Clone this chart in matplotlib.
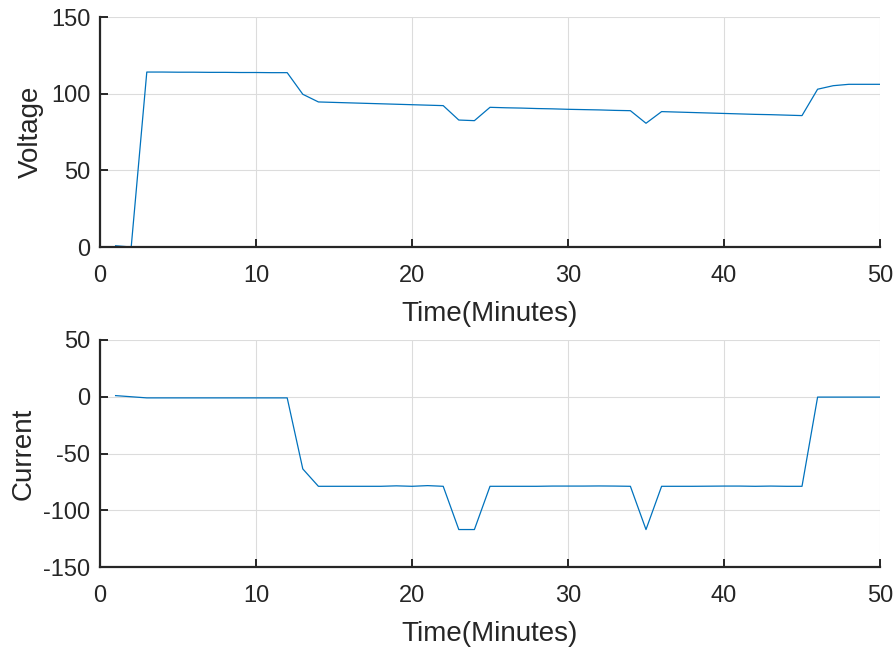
import numpy as np
import matplotlib
matplotlib.use('Agg')
import matplotlib.pyplot as plt

plt.rcParams['font.family'] = ['Liberation Sans', 'DejaVu Sans']
plt.rcParams['axes.unicode_minus'] = False

# sample times (minutes)
minutes = list(range(1, 51))

voltage = [0.8, 0.0, 114.1, 114.1, 114.0, 114.0, 113.9, 113.9, 113.8, 113.8,
           113.7, 113.7, 99.6, 94.6, 94.3, 94.0, 93.7, 93.4, 93.1, 92.8,
           92.5, 92.2, 82.8, 82.4, 91.1, 90.8, 90.6, 90.3, 90.1, 89.8,
           89.6, 89.4, 89.1, 88.9, 80.7, 88.3, 88.0, 87.7, 87.4, 87.1,
           86.8, 86.5, 86.3, 86.0, 85.7, 102.9, 105.2, 106.1, 106.1, 106.1]

current = [1.0, 0.0, -1.0, -1.0, -1.0, -1.0, -1.0, -1.0, -1.0, -1.0,
           -1.0, -1.0, -63.6, -78.9, -78.9, -78.9, -78.9, -78.9, -78.5, -78.9,
           -78.3, -78.9, -117.0, -117.0, -78.9, -78.9, -78.9, -78.9, -78.7, -78.7,
           -78.7, -78.6, -78.7, -78.9, -117.0, -78.9, -78.9, -78.9, -78.8, -78.7,
           -78.7, -78.9, -78.7, -78.9, -78.9, -0.3, -0.3, -0.3, -0.3, -0.3]

axis_color = '#262626'
line_color = '#0072BD'

fig = plt.figure(figsize=(8.96, 6.47), dpi=100)
ax1 = fig.add_axes([100/896, 1 - 247/647, 780/896, 230/647])
ax2 = fig.add_axes([100/896, 1 - 567/647, 780/896, 227/647])

panels = [(ax1, voltage, 'Voltage', (0, 150), [0, 50, 100, 150]),
          (ax2, current, 'Current', (-150, 50), [-150, -100, -50, 0, 50])]

for ax, vals, ylab, ylim, yticks in panels:
    ax.plot(minutes, vals, color=line_color, lw=0.9)
    ax.set_xlim(0, 50)
    ax.set_ylim(*ylim)
    ax.set_xticks([0, 10, 20, 30, 40, 50])
    ax.set_yticks(yticks)
    ax.grid(True, color='#dcdcdc', lw=0.8)
    ax.set_axisbelow(True)
    for side in ['top', 'right']:
        ax.spines[side].set_visible(False)
    for side in ['left', 'bottom']:
        ax.spines[side].set_color(axis_color)
        ax.spines[side].set_linewidth(1.6)
    ax.tick_params(direction='in', length=6, width=1.4, color=axis_color,
                   labelcolor=axis_color, labelsize=17)
    ax.tick_params(axis='x', pad=13)
    ax.tick_params(axis='y', pad=7)
    ax.set_xlabel('Time(Minutes)', fontsize=20, color=axis_color, labelpad=10)
    ax.set_ylabel(ylab, fontsize=20, color=axis_color, labelpad=5)

fig.savefig('out.png', dpi=100)
